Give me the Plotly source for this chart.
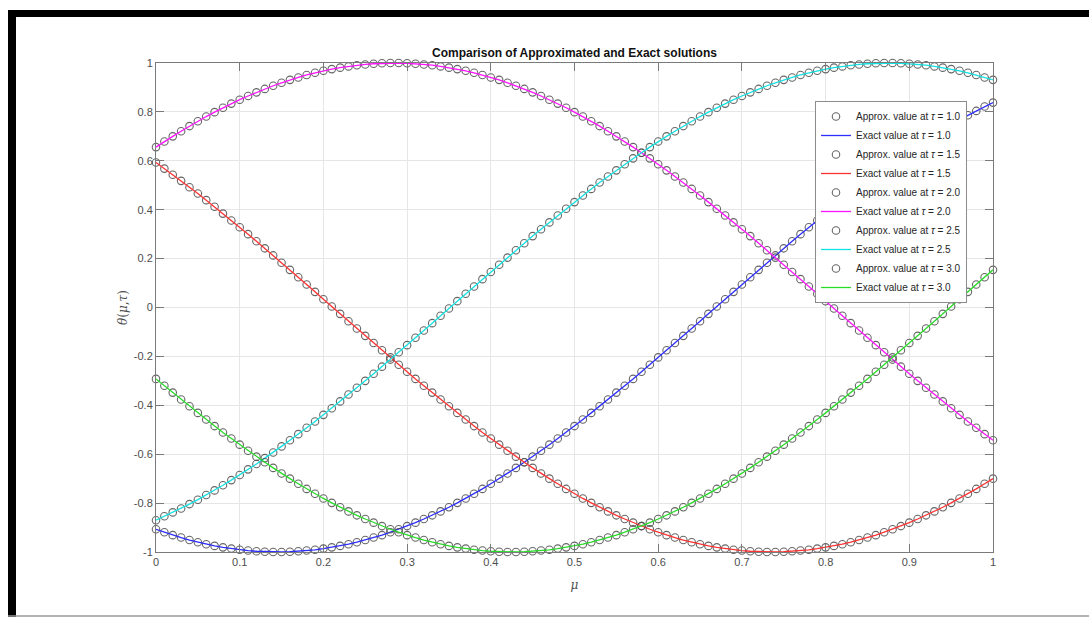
import plotly.graph_objects as go

# ---------------- data ----------------
MU = [0.00, 0.01, 0.02, 0.03, 0.04, 0.05, 0.06, 0.07, 0.08, 0.09,
      0.10, 0.11, 0.12, 0.13, 0.14, 0.15, 0.16, 0.17, 0.18, 0.19,
      0.20, 0.21, 0.22, 0.23, 0.24, 0.25, 0.26, 0.27, 0.28, 0.29,
      0.30, 0.31, 0.32, 0.33, 0.34, 0.35, 0.36, 0.37, 0.38, 0.39,
      0.40, 0.41, 0.42, 0.43, 0.44, 0.45, 0.46, 0.47, 0.48, 0.49,
      0.50, 0.51, 0.52, 0.53, 0.54, 0.55, 0.56, 0.57, 0.58, 0.59,
      0.60, 0.61, 0.62, 0.63, 0.64, 0.65, 0.66, 0.67, 0.68, 0.69,
      0.70, 0.71, 0.72, 0.73, 0.74, 0.75, 0.76, 0.77, 0.78, 0.79,
      0.80, 0.81, 0.82, 0.83, 0.84, 0.85, 0.86, 0.87, 0.88, 0.89,
      0.90, 0.91, 0.92, 0.93, 0.94, 0.95, 0.96, 0.97, 0.98, 0.99, 1.00]

TAU_LABELS = ["1.0", "1.5", "2.0", "2.5", "3.0"]

THETA_TAU_10 = [
    -0.907, -0.919, -0.931, -0.941, -0.951, -0.960, -0.968, -0.975, -0.981, -0.986,
    -0.991, -0.994, -0.997, -0.999, -1.000, -1.000, -0.999, -0.997, -0.994, -0.991,
    -0.986, -0.981, -0.975, -0.968, -0.960, -0.951, -0.941, -0.931, -0.919, -0.907,
    -0.894, -0.880, -0.865, -0.850, -0.834, -0.817, -0.799, -0.781, -0.762, -0.742,
    -0.721, -0.700, -0.679, -0.656, -0.633, -0.610, -0.586, -0.561, -0.536, -0.511,
    -0.485, -0.458, -0.431, -0.404, -0.376, -0.348, -0.320, -0.292, -0.263, -0.234,
    -0.204, -0.175, -0.145, -0.116, -0.086, -0.056, -0.026, 0.004, 0.034, 0.064,
    0.094, 0.124, 0.154, 0.183, 0.213, 0.242, 0.271, 0.300, 0.328, 0.356,
    0.384, 0.412, 0.439, 0.466, 0.492, 0.518, 0.543, 0.568, 0.593, 0.616,
    0.640, 0.662, 0.685, 0.706, 0.727, 0.748, 0.767, 0.786, 0.804, 0.822, 0.838]

THETA_TAU_15 = [
    0.593, 0.568, 0.543, 0.518, 0.492, 0.466, 0.439, 0.412, 0.384, 0.356,
    0.328, 0.300, 0.271, 0.242, 0.213, 0.183, 0.154, 0.124, 0.094, 0.064,
    0.034, 0.004, -0.026, -0.056, -0.086, -0.116, -0.145, -0.175, -0.204, -0.234,
    -0.263, -0.292, -0.320, -0.348, -0.376, -0.404, -0.431, -0.458, -0.485, -0.511,
    -0.536, -0.561, -0.586, -0.610, -0.633, -0.656, -0.679, -0.700, -0.721, -0.742,
    -0.762, -0.781, -0.799, -0.817, -0.834, -0.850, -0.865, -0.880, -0.894, -0.907,
    -0.919, -0.931, -0.941, -0.951, -0.960, -0.968, -0.975, -0.981, -0.986, -0.991,
    -0.994, -0.997, -0.999, -1.000, -1.000, -0.999, -0.997, -0.994, -0.991, -0.986,
    -0.981, -0.975, -0.968, -0.960, -0.951, -0.941, -0.931, -0.919, -0.907, -0.894,
    -0.880, -0.865, -0.850, -0.834, -0.817, -0.799, -0.781, -0.762, -0.742, -0.721, -0.700]

THETA_TAU_20 = [
    0.656, 0.679, 0.700, 0.721, 0.742, 0.762, 0.781, 0.799, 0.817, 0.834,
    0.850, 0.865, 0.880, 0.894, 0.907, 0.919, 0.931, 0.941, 0.951, 0.960,
    0.968, 0.975, 0.981, 0.986, 0.991, 0.994, 0.997, 0.999, 1.000, 1.000,
    0.999, 0.997, 0.994, 0.991, 0.986, 0.981, 0.975, 0.968, 0.960, 0.951,
    0.941, 0.931, 0.919, 0.907, 0.894, 0.880, 0.865, 0.850, 0.834, 0.817,
    0.799, 0.781, 0.762, 0.742, 0.721, 0.700, 0.679, 0.656, 0.633, 0.610,
    0.586, 0.561, 0.536, 0.511, 0.485, 0.458, 0.431, 0.404, 0.376, 0.348,
    0.320, 0.292, 0.263, 0.234, 0.204, 0.175, 0.145, 0.116, 0.086, 0.056,
    0.026, -0.004, -0.034, -0.064, -0.094, -0.124, -0.154, -0.183, -0.213, -0.242,
    -0.271, -0.300, -0.328, -0.356, -0.384, -0.412, -0.439, -0.466, -0.492, -0.518, -0.543]

THETA_TAU_25 = [
    -0.870, -0.854, -0.838, -0.822, -0.804, -0.786, -0.767, -0.748, -0.727, -0.706,
    -0.685, -0.662, -0.640, -0.616, -0.593, -0.568, -0.543, -0.518, -0.492, -0.466,
    -0.439, -0.412, -0.384, -0.356, -0.328, -0.300, -0.271, -0.242, -0.213, -0.183,
    -0.154, -0.124, -0.094, -0.064, -0.034, -0.004, 0.026, 0.056, 0.086, 0.116,
    0.145, 0.175, 0.204, 0.234, 0.263, 0.292, 0.320, 0.348, 0.376, 0.404,
    0.431, 0.458, 0.485, 0.511, 0.536, 0.561, 0.586, 0.610, 0.633, 0.656,
    0.679, 0.700, 0.721, 0.742, 0.762, 0.781, 0.799, 0.817, 0.834, 0.850,
    0.865, 0.880, 0.894, 0.907, 0.919, 0.931, 0.941, 0.951, 0.960, 0.968,
    0.975, 0.981, 0.986, 0.991, 0.994, 0.997, 0.999, 1.000, 1.000, 0.999,
    0.997, 0.994, 0.991, 0.986, 0.981, 0.975, 0.968, 0.960, 0.951, 0.941, 0.931]

THETA_TAU_30 = [
    -0.292, -0.320, -0.348, -0.376, -0.404, -0.431, -0.458, -0.485, -0.511, -0.536,
    -0.561, -0.586, -0.610, -0.633, -0.656, -0.679, -0.700, -0.721, -0.742, -0.762,
    -0.781, -0.799, -0.817, -0.834, -0.850, -0.865, -0.880, -0.894, -0.907, -0.919,
    -0.931, -0.941, -0.951, -0.960, -0.968, -0.975, -0.981, -0.986, -0.991, -0.994,
    -0.997, -0.999, -1.000, -1.000, -0.999, -0.997, -0.994, -0.991, -0.986, -0.981,
    -0.975, -0.968, -0.960, -0.951, -0.941, -0.931, -0.919, -0.907, -0.894, -0.880,
    -0.865, -0.850, -0.834, -0.817, -0.799, -0.781, -0.762, -0.742, -0.721, -0.700,
    -0.679, -0.656, -0.633, -0.610, -0.586, -0.561, -0.536, -0.511, -0.485, -0.458,
    -0.431, -0.404, -0.376, -0.348, -0.320, -0.292, -0.263, -0.234, -0.204, -0.175,
    -0.145, -0.116, -0.086, -0.056, -0.026, 0.004, 0.034, 0.064, 0.094, 0.124, 0.154]

SERIES = [THETA_TAU_10, THETA_TAU_15, THETA_TAU_20, THETA_TAU_25, THETA_TAU_30]
for s in SERIES:
    assert len(s) == len(MU), len(s)

X_TICKS = [0, 0.1, 0.2, 0.3, 0.4, 0.5, 0.6, 0.7, 0.8, 0.9, 1]
X_TICK_TEXT = ["0", "0.1", "0.2", "0.3", "0.4", "0.5", "0.6", "0.7", "0.8", "0.9", "1"]
Y_TICKS = [-1, -0.8, -0.6, -0.4, -0.2, 0, 0.2, 0.4, 0.6, 0.8, 1]
Y_TICK_TEXT = ["-1", "-0.8", "-0.6", "-0.4", "-0.2", "0", "0.2", "0.4", "0.6", "0.8", "1"]

# ---------------- styling ----------------
LINE_COLORS = ["rgb(45,45,255)", "rgb(255,50,50)", "rgb(255,20,255)",
               "rgb(20,225,225)", "rgb(40,220,40)"]
MARKER_COLOR = "rgba(75,75,75,0.85)"
FONT = "Liberation Sans, Arial, Helvetica, sans-serif"
SERIF = "DejaVu Serif, serif"

W, H = 1089, 617
L, R, T, B = 156, 993, 63, 552   # plot area in pixels


def px_x(p):
    return (p - L) / (R - L)


def px_y(p):
    return (B - p) / (B - T)


fig = go.Figure()
for lab, vals, col in zip(TAU_LABELS, SERIES, LINE_COLORS):
    fig.add_trace(go.Scatter(
        x=MU, y=vals, mode="markers",
        name="Approx. value at <i>τ</i> = " + lab,
        marker=dict(symbol="circle-open", size=7.5, color=MARKER_COLOR,
                    line=dict(width=1.1, color=MARKER_COLOR)),
        cliponaxis=False))
    fig.add_trace(go.Scatter(
        x=MU, y=vals, mode="lines",
        name="Exact value at <i>τ</i> = " + lab,
        line=dict(color=col, width=1.3),
        cliponaxis=False))

axis_common = dict(
    showline=True, linecolor="#7a7a7a", linewidth=1, mirror="ticks",
    ticks="inside", ticklen=8, tickcolor="#7a7a7a", tickwidth=1,
    showgrid=True, gridcolor="#e6e6e6", gridwidth=1, zeroline=False,
    tickfont=dict(family=FONT, size=11, color="#4d4d4d"),
)

fig.update_layout(
    width=W, height=H,
    margin=dict(l=L, r=W - R, t=T, b=H - B, pad=0),
    paper_bgcolor="white", plot_bgcolor="white",
    showlegend=True,
    title=dict(text="<b>Comparison of Approximated and Exact solutions</b>",
               x=px_x((L + R) / 2), xref="paper", xanchor="center",
               y=1 - 53 / H, yanchor="middle",
               font=dict(family=FONT, size=12, color="#111111")),
    xaxis=dict(range=[0, 1], tickvals=X_TICKS, ticktext=X_TICK_TEXT,
               title=dict(text="<i>μ</i>", standoff=13,
                          font=dict(family=SERIF, size=12, color="#4d4d4d")),
               **axis_common),
    yaxis=dict(range=[-1, 1], tickvals=Y_TICKS, ticktext=Y_TICK_TEXT,
               **axis_common),
    legend=dict(x=px_x(815), y=px_y(101), xanchor="left", yanchor="top",
                bgcolor="white", bordercolor="#8c8c8c", borderwidth=1,
                font=dict(family=FONT, size=10, color="#262626"),
                tracegroupgap=0, itemwidth=30),
)

# y-axis label placed as in the reference
fig.add_annotation(text="<i>θ</i>(<i>μ</i>,<i>τ</i>)", xref="paper", yref="paper",
                   x=px_x(123), y=px_y(308), xanchor="center", yanchor="middle",
                   textangle=-90, showarrow=False,
                   font=dict(family=SERIF, size=12, color="#4d4d4d"))

# black frame of the screenshot
fig.add_shape(type="rect", xref="paper", yref="paper",
              x0=px_x(8), x1=px_x(1089), y0=px_y(17), y1=px_y(10),
              fillcolor="black", line=dict(width=0), layer="above")
fig.add_shape(type="rect", xref="paper", yref="paper",
              x0=px_x(8), x1=px_x(16), y0=px_y(617), y1=px_y(10),
              fillcolor="black", line=dict(width=0), layer="above")
fig.add_shape(type="line", xref="paper", yref="paper",
              x0=px_x(8), x1=px_x(1089), y0=px_y(616), y1=px_y(616),
              line=dict(color="#9a9a9a", width=1.5), layer="above")

fig.write_html("out.html")
